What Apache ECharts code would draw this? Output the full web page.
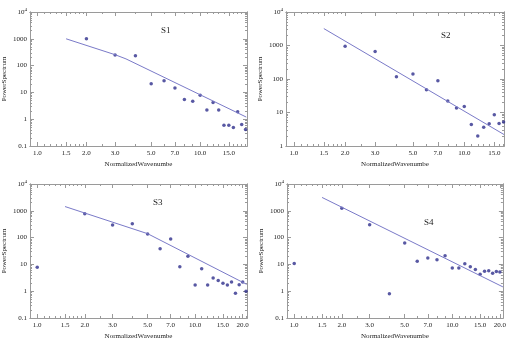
<!DOCTYPE html>
<html>
<head>
<meta charset="utf-8">
<script src="https://cdn.jsdelivr.net/npm/echarts@6/dist/echarts.min.js"></script>
<style>
html, body { margin: 0; padding: 0; background: #fff; }
#chart { width: 509px; height: 342px; }
</style>
</head>
<body>
<div id="chart"></div>
<script>
// tick values
var xTicks = [1.0, 1.5, 2.0, 3.0, 5.0, 7.0, 10.0, 15.0, 20.0];
var xMinor = [0.9, 1.1, 1.2, 1.3, 1.4, 1.6, 1.7, 1.8, 1.9, 2.5, 4, 6, 8, 9, 11, 12, 13, 14, 16, 17, 18, 19, 21];
var yMinor = [0.2, 0.3, 0.4, 0.5, 0.6, 0.7, 0.8, 0.9, 2, 3, 4, 5, 6, 7, 8, 9,
    20, 30, 40, 50, 60, 70, 80, 90, 200, 300, 400, 500, 600, 700, 800, 900,
    2000, 3000, 4000, 5000, 6000, 7000, 8000, 9000];

// S1
var s1X = [2, 3, 4, 5, 6, 7, 8, 9, 10, 11, 12, 13, 14, 15, 16, 17, 18, 19];
var s1Y = [1000, 250, 235, 21, 27, 14.5, 5.4, 4.7, 7.9, 2.2, 4.2, 2.2, 0.6, 0.6, 0.49, 1.9, 0.63, 0.41];
var s1LineX = [1.5, 3.0, 3.5, 19.2];
var s1LineY = [1000, 255, 178, 1.2];

// S2
var s2X = [2, 3, 4, 5, 6, 7, 8, 9, 10, 11, 12, 13, 14, 15, 16, 17];
var s2Y = [950, 665, 117, 140, 48, 89, 22, 13.7, 15, 4.4, 2.0, 3.6, 4.6, 8.6, 4.7, 5.2];
var s2LineX = [1.5, 17.1];
var s2LineY = [3200, 2.2];

// S3
var s3X = [1, 2, 3, 4, 5, 6, 7, 8, 9, 10, 11, 12, 13, 14, 15, 16, 17, 18, 19, 20, 21];
var s3Y = [7.9, 780, 295, 330, 135, 38, 88, 8.1, 20, 1.7, 6.9, 1.7, 3.1, 2.5, 2.0, 1.7, 2.2, 0.83, 1.75, 2.2, 1.0];
var s3LineX = [1.5, 5.0, 21.2];
var s3LineY = [1440, 140, 1.8];

// S4
var s4X = [1, 2, 3, 4, 5, 6, 7, 8, 9, 10, 11, 12, 13, 14, 15, 16, 17, 18, 19, 20];
var s4Y = [10.7, 1250, 300, 0.8, 63, 13, 17.5, 15, 21, 7.3, 7.3, 10.5, 8.1, 6.5, 4.3, 5.5, 5.8, 4.7, 5.4, 5.2];
var s4LineX = [1.5, 20.9];
var s4LineY = [3150, 1.45];

var FONT = '"Liberation Serif", "DejaVu Serif", serif';
var FRAME = '#9a9a9a';
var DOT = '#2e2e8c';
var LINE = '#7a7ac8';

var chart = echarts.init(document.getElementById('chart'));

function pairs(xs, ys) {
    var out = [];
    for (var i = 0; i < xs.length; i++) out.push([xs[i], ys[i]]);
    return out;
}

function xAxes(g, xMax) {
    var base = function (pos, ticks, len, labels) {
        return {
            type: 'log', logBase: 10, gridIndex: g, position: pos,
            min: 0.9, max: xMax,
            splitLine: {show: false},
            axisLine: {show: true, onZero: false, lineStyle: {color: FRAME, width: 1}},
            axisTick: {show: true, inside: true, length: len, customValues: ticks, lineStyle: {color: FRAME}},
            axisLabel: labels ? {
                show: true, customValues: xTicks, margin: 4, fontSize: 7, fontFamily: FONT, color: '#222',
                formatter: function (v) { return Number(v).toFixed(1); }
            } : {show: false},
            name: labels ? 'NormalizedWavenumbe' : '',
            nameLocation: 'middle', nameGap: 15,
            nameTextStyle: {fontSize: 7, fontFamily: FONT, color: '#222'}
        };
    };
    return [
        base('bottom', xTicks, 4, true),
        base('bottom', xMinor, 2, false),
        base('top', xTicks, 4, false),
        base('top', xMinor, 2, false)
    ];
}

function yAxes(g, yMin) {
    var base = function (pos, ticks, len, labels) {
        var ax = {
            type: 'log', logBase: 10, gridIndex: g, position: pos,
            min: yMin, max: 10000,
            splitLine: {show: false},
            axisLine: {show: true, onZero: false, lineStyle: {color: FRAME, width: 1}},
            axisTick: {show: true, inside: true, length: len, lineStyle: {color: FRAME}},
            axisLabel: labels ? {
                show: true, margin: 3, fontSize: 7, fontFamily: FONT, color: '#222',
                formatter: function (v) {
                    var p = Math.round(Math.log10(v));
                    if (p >= 4) return '{b|10}{s|' + p + '}';
                    return p < 0 ? Math.pow(10, p).toFixed(-p) : String(Math.pow(10, p));
                },
                rich: {
                    b: {fontSize: 7, fontFamily: FONT, color: '#222', lineHeight: 10},
                    s: {fontSize: 5, fontFamily: FONT, color: '#222', lineHeight: 5, padding: [0, 0, 5, 0]}
                }
            } : {show: false},
            name: labels ? 'PowerSpectrum' : '',
            nameLocation: 'middle', nameGap: 22, nameRotate: 90,
            nameTextStyle: {fontSize: 7, fontFamily: FONT, color: '#222'}
        };
        if (ticks) ax.axisTick.customValues = ticks;
        return ax;
    };
    return [
        base('left', null, 4, true),
        base('left', yMinor, 2, false),
        base('right', null, 4, false),
        base('right', yMinor, 2, false)
    ];
}

var panels = [
    {grid: {left: 29, top: 12, width: 218, height: 134}, xMax: 19.4, yMin: 0.1, x: s1X, y: s1Y, lx: s1LineX, ly: s1LineY, name: 'S1', lab: [167, 32]},
    {grid: {left: 286, top: 12, width: 218, height: 134}, xMax: 17.1, yMin: 1, x: s2X, y: s2Y, lx: s2LineX, ly: s2LineY, name: 'S2', lab: [447, 37]},
    {grid: {left: 29, top: 184, width: 218, height: 134}, xMax: 21.3, yMin: 0.1, x: s3X, y: s3Y, lx: s3LineX, ly: s3LineY, name: 'S3', lab: [159, 204]},
    {grid: {left: 287, top: 184, width: 217, height: 134}, xMax: 20.9, yMin: 0.1, x: s4X, y: s4Y, lx: s4LineX, ly: s4LineY, name: 'S4', lab: [430, 224]}
];

var option = {
    animation: false,
    backgroundColor: '#fff',
    grid: [], xAxis: [], yAxis: [], series: [], graphic: []
};

panels.forEach(function (p, g) {
    option.grid.push(p.grid);
    var xs = xAxes(g, p.xMax), ys = yAxes(g, p.yMin);
    var xi = option.xAxis.length, yi = option.yAxis.length;
    option.xAxis = option.xAxis.concat(xs);
    option.yAxis = option.yAxis.concat(ys);
    option.series.push({
        type: 'line', xAxisIndex: xi, yAxisIndex: yi,
        data: pairs(p.lx, p.ly), showSymbol: false, symbol: 'none',
        lineStyle: {color: LINE, width: 1}
    });
    option.series.push({
        type: 'scatter', xAxisIndex: xi, yAxisIndex: yi,
        data: pairs(p.x, p.y), symbol: 'circle', symbolSize: 3.5,
        itemStyle: {color: DOT}
    });
    option.graphic.push({
        type: 'text', left: p.lab[0] - 6, top: p.lab[1] - 6,
        style: {text: p.name, font: '9px ' + FONT, fill: '#222'}
    });
});

chart.setOption(option);
</script>
</body>
</html>
